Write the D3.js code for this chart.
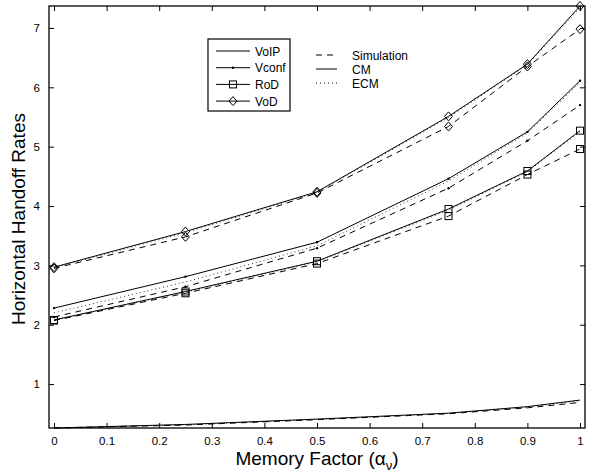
<!DOCTYPE html>
<html>
<head>
<meta charset="utf-8">
<script src="https://cdn.jsdelivr.net/npm/d3@7"></script>
<style>
  body { margin: 0; background: #fff; }
  svg { font-family: "Liberation Sans", Arial, sans-serif; }
</style>
</head>
<body>
<div id="chart"></div>
<script>
// memory factor values
var alphas = [0, 0.25, 0.5, 0.75, 0.9, 1];

// VoIP
var voipSim = [0.26, 0.31, 0.40, 0.50, 0.60, 0.69];
var voipCM  = [0.26, 0.32, 0.41, 0.51, 0.62, 0.73];
var voipECM = [0.26, 0.315, 0.405, 0.505, 0.61, 0.72];
// Vconf
var vconfSim = [2.13, 2.64, 3.29, 4.30, 5.10, 5.70];
var vconfCM  = [2.28, 2.81, 3.39, 4.46, 5.25, 6.11];
var vconfECM = [2.20, 2.72, 3.33, 4.42, 5.23, 6.08];
// RoD
var rodSim = [2.07, 2.53, 3.03, 3.83, 4.53, 4.96];
var rodCM  = [2.08, 2.56, 3.07, 3.95, 4.59, 5.27];
var rodECM = [2.08, 2.55, 3.06, 3.93, 4.58, 5.25];
// VoD
var vodSim = [2.95, 3.48, 4.22, 5.34, 6.35, 6.98];
var vodCM  = [2.97, 3.57, 4.24, 5.51, 6.39, 7.37];
var vodECM = [2.96, 3.55, 4.23, 5.49, 6.38, 7.34];

var xTicks = [0, 0.1, 0.2, 0.3, 0.4, 0.5, 0.6, 0.7, 0.8, 0.9, 1];
var yTicks = [1, 2, 3, 4, 5, 6, 7];

var services = ["VoIP", "Vconf", "RoD", "VoD"];
var markers = ["none", "dot", "square", "diamond"];
var models = ["Simulation", "CM", "ECM"];
var dashes = ["6,5", null, "1,3"];

var width = 595, height = 472;
var plotLeft = 49, plotRight = 585, plotTop = 6, plotBottom = 428;

var svg = d3.select("#chart").append("svg")
    .attr("width", width)
    .attr("height", height);

var x = d3.scaleLinear().domain([-0.0095, 1.0095]).range([plotLeft, plotRight]);
var y = d3.scaleLinear().domain([0.26, 7.37]).range([plotBottom, plotTop]);

var series = [
    [voipSim, voipCM, voipECM],
    [vconfSim, vconfCM, vconfECM],
    [rodSim, rodCM, rodECM],
    [vodSim, vodCM, vodECM]
];

var line = d3.line()
    .x(function (d, i) { return x(alphas[i]); })
    .y(function (d) { return y(d); });

function drawMarker(g, type, cx, cy) {
    if (type == "dot") {
        g.append("circle").attr("cx", cx).attr("cy", cy).attr("r", 1.2)
            .attr("fill", "#000");
    } else if (type == "square") {
        g.append("rect").attr("x", cx - 3.5).attr("y", cy - 3.5)
            .attr("width", 7).attr("height", 7)
            .attr("fill", "none").attr("stroke", "#000").attr("stroke-width", 1);
    } else if (type == "diamond") {
        g.append("path")
            .attr("d", "M" + cx + "," + (cy - 4.5) + "L" + (cx + 4) + "," + cy +
                "L" + cx + "," + (cy + 4.5) + "L" + (cx - 4) + "," + cy + "Z")
            .attr("fill", "none").attr("stroke", "#000").attr("stroke-width", 1);
    }
}

var plot = svg.append("g").attr("id", "lines");
series.forEach(function (group, s) {
    group.forEach(function (vals, m) {
        plot.append("path")
            .attr("d", line(vals))
            .attr("fill", "none")
            .attr("stroke", "#000")
            .attr("stroke-width", m == 2 ? 0.8 : 1)
            .attr("stroke-dasharray", dashes[m]);
        // ECM curves drawn without markers
        if (m == 2) return;
        vals.forEach(function (v, i) {
            drawMarker(plot, markers[s], x(alphas[i]), y(v));
        });
    });
});

// axes with inward ticks, box style
var xAxis = d3.axisBottom(x).tickValues(xTicks).tickSize(-5).tickPadding(9)
    .tickFormat(d3.format(""));
var gx = svg.append("g").attr("transform", "translate(0," + plotBottom + ")").call(xAxis);
var gxTop = svg.append("g").attr("transform", "translate(0," + plotTop + ")")
    .call(d3.axisTop(x).tickValues(xTicks).tickSize(-5).tickFormat(""));
var yAxis = d3.axisLeft(y).tickValues(yTicks).tickSize(-5).tickPadding(9);
var gy = svg.append("g").attr("transform", "translate(" + plotLeft + ",0)").call(yAxis);
var gyRight = svg.append("g").attr("transform", "translate(" + plotRight + ",0)")
    .call(d3.axisRight(y).tickValues(yTicks).tickSize(-5).tickFormat(""));

[gx, gxTop, gy, gyRight].forEach(function (g) {
    g.select(".domain").remove();
    g.selectAll("line").attr("stroke", "#000");
    g.selectAll("text").attr("font-size", 11.5).attr("fill", "#000")
        .attr("font-family", "Liberation Sans, Arial, sans-serif");
});

svg.append("rect")
    .attr("x", plotLeft).attr("y", plotTop)
    .attr("width", plotRight - plotLeft).attr("height", plotBottom - plotTop)
    .attr("fill", "none").attr("stroke", "#000").attr("stroke-width", 1.3);

// axis labels
var xl = svg.append("text")
    .attr("x", 317).attr("y", 465)
    .attr("text-anchor", "middle")
    .attr("font-size", 19);
xl.append("tspan").text("Memory Factor (α");
xl.append("tspan").attr("font-size", 13).attr("dy", 5).text("ν");
xl.append("tspan").attr("dy", -5).text(")");

svg.append("text")
    .attr("transform", "translate(25,219) rotate(-90)")
    .attr("text-anchor", "middle")
    .attr("font-size", 19)
    .text("Horizontal Handoff Rates");

// legend: services
var leg = svg.append("g");
leg.append("rect")
    .attr("x", 208).attr("y", 39).attr("width", 82).attr("height", 72)
    .attr("fill", "#fff").attr("stroke", "#000").attr("stroke-width", 1.2);
services.forEach(function (name, i) {
    var ly = 51 + i * 16.7;
    leg.append("line").attr("x1", 216).attr("x2", 250).attr("y1", ly).attr("y2", ly)
        .attr("stroke", "#000").attr("stroke-width", 1);
    drawMarker(leg, markers[i], 233, ly);
    leg.append("text").attr("x", 255).attr("y", ly + 4.5)
        .attr("font-size", 12).text(name);
});

// legend: models
models.forEach(function (name, i) {
    var ly = 55 + i * 14;
    leg.append("line").attr("x1", 316).attr("x2", 337).attr("y1", ly).attr("y2", ly)
        .attr("stroke", "#000").attr("stroke-width", 1)
        .attr("stroke-dasharray", dashes[i]);
    leg.append("text").attr("x", 352).attr("y", ly + 4.5)
        .attr("font-size", 12).text(name);
});
</script>
</body>
</html>
